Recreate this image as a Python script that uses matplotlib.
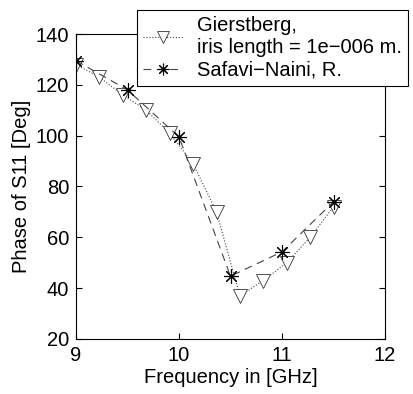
import numpy as np
import matplotlib.pyplot as plt

# Gierstberg, 12 points evenly spaced 9..11.5 GHz
freq_g = [9.0, 9.227, 9.455, 9.682, 9.909, 10.136, 10.364, 10.591, 10.818, 11.045, 11.273, 11.5]
phase_g = [128, 123, 116, 110, 101, 89, 70, 37, 43, 50, 60, 72]

# Safavi-Naini, R.
freq_s = [9.0, 9.5, 10.0, 10.5, 11.0, 11.5]
phase_s = [129.5, 118, 99.5, 44.7, 54.3, 74]

plt.rcParams['font.family'] = ['Liberation Sans', 'DejaVu Sans']
plt.rcParams['font.size'] = 14.5

fig = plt.figure(figsize=(4.14, 3.94), dpi=100)
ax = fig.add_axes([0.1836, 0.1396, 0.7464, 0.7741])

ax.plot(freq_g, phase_g, color='#444444', linestyle=':', linewidth=0.8,
        marker='v', markersize=10.5, markerfacecolor='white', markeredgecolor='#333333',
        markeredgewidth=0.6, label='Gierstberg,\niris length = 1e\u2212006 m.')
ax.plot(freq_s, phase_s, color='#444444', linestyle=(0, (7, 5)), linewidth=0.8,
        marker=(8, 2, 0), markersize=10.5, markeredgecolor='black',
        markeredgewidth=0.8, label='Safavi\u2212Naini, R.')

ax.set_xlim(9, 12)
ax.set_ylim(20, 140)
ax.set_xticks([9, 10, 11, 12])
ax.set_yticks([20, 40, 60, 80, 100, 120, 140])
ax.tick_params(direction='in', top=True, right=True, length=4, width=0.8, pad=5)
for s in ax.spines.values():
    s.set_linewidth(0.8)

ax.set_xlabel('Frequency in [GHz]', labelpad=2)
ax.set_ylabel('Phase of S11 [Deg]', labelpad=3)

leg = fig.legend(loc='upper left', bbox_to_anchor=(0.331, 0.975),
                 bbox_transform=fig.transFigure, fancybox=False,
                 framealpha=1, edgecolor='black', borderpad=0.3,
                 labelspacing=0.2, handlelength=2.0, handletextpad=0.7,
                 borderaxespad=0, markerscale=0.8)
leg.get_frame().set_linewidth(0.8)

fig.savefig('out.png', dpi=100)
